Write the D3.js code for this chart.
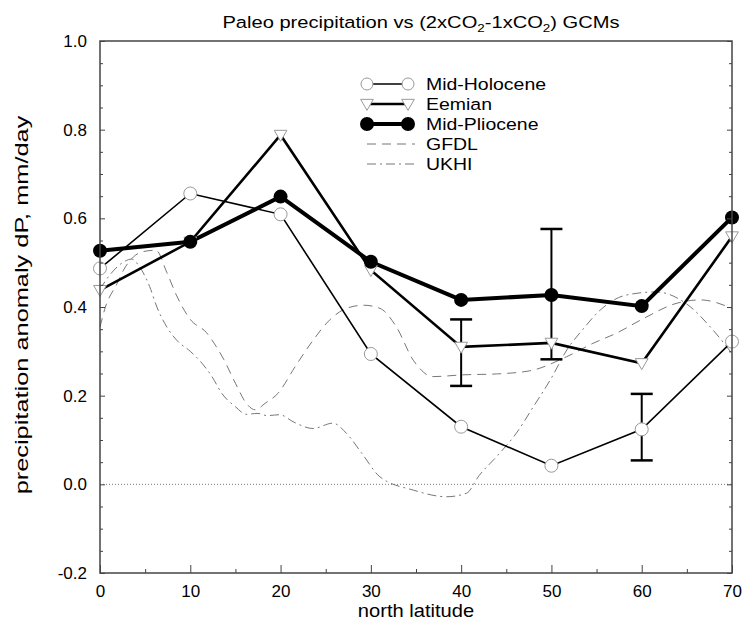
<!DOCTYPE html>
<html>
<head>
<meta charset="utf-8">
<script src="https://cdn.jsdelivr.net/npm/d3@7"></script>
<style>
  body { margin: 0; background: #fff; }
  text { font-family: "Liberation Sans", Arial, sans-serif; }
</style>
</head>
<body>
<div id="chart"></div>
<script>
// station latitudes for the paleo series
const lats = [0, 10, 20, 30, 40, 50, 60, 70];
const midHolocene = [0.487, 0.656, 0.609, 0.294, 0.130, 0.042, 0.124, 0.322];
const eemian      = [0.438, 0.547, 0.788, 0.483, 0.310, 0.319, 0.273, 0.559];
const midPliocene = [0.527, 0.547, 0.649, 0.502, 0.416, 0.427, 0.402, 0.602];

// error bars
const errLat  = [40, 50, 60];
const errLow  = [0.222, 0.282, 0.054];
const errHigh = [0.372, 0.576, 0.204];

// GCM curves (lat, dP)
const gfdl = [
  [0, 0.355], [0.6, 0.40], [1.9, 0.453], [2.6, 0.483], [3.7, 0.513], [4.8, 0.525],
  [6.2, 0.528], [7.4, 0.478], [8.5, 0.425], [10, 0.372], [11.8, 0.342], [12.9, 0.31],
  [13.7, 0.282], [15, 0.228], [16.2, 0.183], [17.2, 0.168], [18.3, 0.183], [19.7, 0.205],
  [21.6, 0.265], [23.6, 0.325], [25.5, 0.372], [27.3, 0.397], [29.2, 0.404], [31, 0.397],
  [32.8, 0.356], [34.7, 0.28], [36.9, 0.243], [40.2, 0.247], [43.9, 0.249], [47.6, 0.256],
  [51.7, 0.288], [54.6, 0.318], [57.2, 0.341], [60.2, 0.374], [63.8, 0.408], [66.5, 0.416],
  [70, 0.397]
];
const ukhi = [
  [0, 0.44], [1, 0.47], [2.5, 0.5], [3.5, 0.508], [4.4, 0.49], [5.5, 0.446], [6.3, 0.40],
  [7.4, 0.355], [8.5, 0.325], [10, 0.30], [11.3, 0.273], [12.4, 0.243], [13.5, 0.205],
  [15, 0.175], [16.2, 0.158], [17.5, 0.16], [18.5, 0.155], [19.9, 0.157], [21.5, 0.14],
  [23.6, 0.126], [25.8, 0.138], [27.3, 0.115], [29, 0.07], [31, 0.017], [34.7, -0.013],
  [38.4, -0.028], [40.6, -0.02], [42, 0.02], [43.9, 0.062], [46.1, 0.115], [48, 0.175],
  [50, 0.24], [51.7, 0.303], [53.5, 0.35], [55.4, 0.393], [58.3, 0.427], [61.6, 0.434],
  [64.9, 0.408], [67.9, 0.348], [70, 0.295]
];

const xTicks = [0, 10, 20, 30, 40, 50, 60, 70];
const yTicks = [-0.2, 0.0, 0.2, 0.4, 0.6, 0.8, 1.0];
const legendItems = ["Mid-Holocene", "Eemian", "Mid-Pliocene", "GFDL", "UKHI"];

const width = 744, height = 628;
const margin = {top: 41, right: 12, bottom: 55, left: 100};

const svg = d3.select("#chart").append("svg")
  .attr("width", width)
  .attr("height", height);

const x = d3.scaleLinear().domain([0, 70]).range([margin.left, width - margin.right]);
const y = d3.scaleLinear().domain([-0.2, 1.0]).range([height - margin.bottom, margin.top]);

// text that is a bit wider than the local font
function wideText(parent, px, py, sx, anchor, size) {
  return parent.append("g")
    .attr("transform", `translate(${px},${py}) scale(${sx},1)`)
    .append("text")
    .attr("text-anchor", anchor)
    .attr("font-size", size);
}

// zero line
svg.append("line")
  .attr("x1", x(0)).attr("x2", x(70))
  .attr("y1", y(0)).attr("y2", y(0))
  .attr("stroke", "#777").attr("stroke-width", 1)
  .attr("stroke-dasharray", "1,2");

// GCM curves
const curve = d3.line().x(d => x(d[0])).y(d => y(d[1])).curve(d3.curveMonotoneX);
svg.append("path").attr("d", curve(gfdl))
  .attr("fill", "none").attr("stroke", "#777").attr("stroke-width", 1)
  .attr("stroke-dasharray", "9,6");
svg.append("path").attr("d", curve(ukhi))
  .attr("fill", "none").attr("stroke", "#777").attr("stroke-width", 1)
  .attr("stroke-dasharray", "9,4,2,4");

// paleo series
const line = d3.line().x((d, i) => x(lats[i])).y(d => y(d));
svg.append("path").attr("d", line(midHolocene))
  .attr("fill", "none").attr("stroke", "#000").attr("stroke-width", 1.6);
svg.append("path").attr("d", line(eemian))
  .attr("fill", "none").attr("stroke", "#000").attr("stroke-width", 2.6);
svg.append("path").attr("d", line(midPliocene))
  .attr("fill", "none").attr("stroke", "#000").attr("stroke-width", 4);

// error bars
const eb = svg.append("g").attr("stroke", "#000");
errLat.forEach((lat, i) => {
  eb.append("line").attr("x1", x(lat)).attr("x2", x(lat))
    .attr("y1", y(errLow[i])).attr("y2", y(errHigh[i])).attr("stroke-width", 2);
  [errLow[i], errHigh[i]].forEach(v => {
    eb.append("line").attr("x1", x(lat) - 11).attr("x2", x(lat) + 11)
      .attr("y1", y(v)).attr("y2", y(v)).attr("stroke-width", 2.5);
  });
});

// markers
const tri = d3.symbol().type(d3.symbolTriangle).size(70);
svg.append("g").selectAll("path").data(eemian).join("path")
  .attr("d", tri)
  .attr("transform", (d, i) => `translate(${x(lats[i])},${y(d) - 1}) rotate(180)`)
  .attr("fill", "#fff").attr("stroke", "#999").attr("stroke-width", 1);
svg.append("g").selectAll("circle").data(midHolocene).join("circle")
  .attr("cx", (d, i) => x(lats[i])).attr("cy", d => y(d)).attr("r", 6.5)
  .attr("fill", "#fff").attr("stroke", "#999").attr("stroke-width", 1);
svg.append("g").selectAll("circle").data(midPliocene).join("circle")
  .attr("cx", (d, i) => x(lats[i])).attr("cy", d => y(d)).attr("r", 7)
  .attr("fill", "#000");

// axes frame
const axisColor = "#444";
svg.append("rect")
  .attr("x", x(0)).attr("y", y(1.0))
  .attr("width", x(70) - x(0)).attr("height", y(-0.2) - y(1.0))
  .attr("fill", "none").attr("stroke", axisColor).attr("stroke-width", 1.5);

const xAxis = d3.axisBottom(x).tickValues(xTicks).tickSize(-8).tickPadding(12)
  .tickFormat(d3.format("d"));
const gx = svg.append("g").attr("transform", `translate(0,${y(-0.2)})`).call(xAxis);
gx.select(".domain").remove();
const gxm = svg.append("g").attr("transform", `translate(0,${y(-0.2)})`)
  .call(d3.axisBottom(x).tickValues(d3.range(5, 70, 10)).tickSize(-4).tickFormat(""));
gxm.select(".domain").remove();

const yAxis = d3.axisLeft(y).tickValues(yTicks).tickSize(-5).tickPadding(13)
  .tickFormat(d => d.toFixed(1));
const gy = svg.append("g").attr("transform", `translate(${x(0)},0)`).call(yAxis);
gy.select(".domain").remove();
const yMinorVals = d3.range(-0.15, 1.0, 0.05).filter(v => Math.abs(v * 5 - Math.round(v * 5)) > 0.01);
const gym = svg.append("g").attr("transform", `translate(${x(0)},0)`)
  .call(d3.axisLeft(y).tickValues(yMinorVals).tickSize(-3).tickFormat(""));
gym.select(".domain").remove();
const gyr = svg.append("g").attr("transform", `translate(${x(70)},0)`)
  .call(d3.axisRight(y).tickValues(yTicks).tickSize(-5).tickFormat(""));
gyr.select(".domain").remove();
const gyrm = svg.append("g").attr("transform", `translate(${x(70)},0)`)
  .call(d3.axisRight(y).tickValues(yMinorVals).tickSize(-3).tickFormat(""));
gyrm.select(".domain").remove();

svg.selectAll(".tick line").attr("stroke", axisColor);
svg.selectAll(".tick text").attr("font-size", 17).attr("fill", "#000")
  .attr("font-family", "Liberation Sans, Arial, sans-serif");

// title
const title = wideText(svg, 421, 28, 1.22, "middle", 16.5);
title.append("tspan").text("Paleo precipitation vs (2xCO");
title.append("tspan").attr("font-size", 11).attr("dy", 4).text("2");
title.append("tspan").attr("dy", -4).text("-1xCO");
title.append("tspan").attr("font-size", 11).attr("dy", 4).text("2");
title.append("tspan").attr("dy", -4).text(") GCMs");

// axis labels
wideText(svg, x(35), 617, 1.15, "middle", 17.5).text("north latitude");
svg.append("g")
  .attr("transform", `translate(28,305) rotate(-90) scale(1.45,1)`)
  .append("text")
  .attr("text-anchor", "middle").attr("font-size", 17.5)
  .text("precipitation anomaly dP, mm/day");

// legend
const lx0 = 367, lx1 = 408, ltx = 426, ly0 = 84, ldy = 20;
const lg = svg.append("g");
legendItems.forEach((name, i) => {
  const yy = ly0 + i * ldy;
  const ln = lg.append("line").attr("x1", lx0).attr("x2", i < 3 ? lx1 : 415)
    .attr("y1", yy).attr("y2", yy).attr("fill", "none");
  if (i === 0) ln.attr("stroke", "#000").attr("stroke-width", 1.6);
  if (i === 1) ln.attr("stroke", "#000").attr("stroke-width", 2.6);
  if (i === 2) ln.attr("stroke", "#000").attr("stroke-width", 4);
  if (i === 3) ln.attr("stroke", "#777").attr("stroke-width", 1).attr("stroke-dasharray", "9,6");
  if (i === 4) ln.attr("stroke", "#777").attr("stroke-width", 1).attr("stroke-dasharray", "9,4,2,4");
  [lx0, lx1].forEach(px => {
    if (i === 0) lg.append("circle").attr("cx", px).attr("cy", yy).attr("r", 6)
      .attr("fill", "#fff").attr("stroke", "#999");
    if (i === 1) lg.append("path").attr("d", tri)
      .attr("transform", `translate(${px},${yy - 1}) rotate(180)`)
      .attr("fill", "#fff").attr("stroke", "#999");
    if (i === 2) lg.append("circle").attr("cx", px).attr("cy", yy).attr("r", 7).attr("fill", "#000");
  });
  wideText(lg, ltx, yy, 1.18, "start", 16.5).attr("dy", "0.36em").text(name);
});
</script>
</body>
</html>
